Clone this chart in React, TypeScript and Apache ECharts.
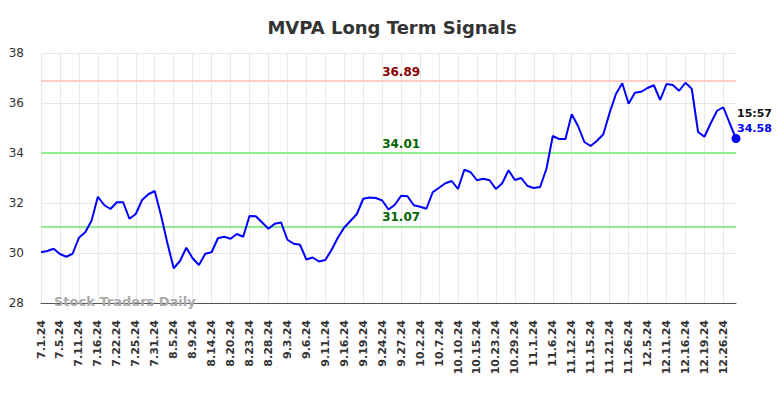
import React, { useEffect, useRef } from "react";
import * as echarts from "echarts";

const dates = [
  "7.1.24", "7.2.24", "7.3.24", "7.5.24", "7.8.24", "7.9.24", "7.11.24", "7.12.24", "7.15.24", "7.16.24",
  "7.17.24", "7.18.24", "7.22.24", "7.23.24", "7.24.24", "7.25.24", "7.26.24", "7.29.24", "7.31.24", "8.1.24",
  "8.2.24", "8.5.24", "8.6.24", "8.7.24", "8.9.24", "8.12.24", "8.13.24", "8.14.24", "8.15.24", "8.16.24",
  "8.20.24", "8.21.24", "8.22.24", "8.23.24", "8.26.24", "8.27.24", "8.28.24", "8.29.24", "8.30.24", "9.3.24",
  "9.4.24", "9.5.24", "9.6.24", "9.9.24", "9.10.24", "9.11.24", "9.12.24", "9.13.24", "9.16.24", "9.17.24",
  "9.18.24", "9.19.24", "9.20.24", "9.23.24", "9.24.24", "9.25.24", "9.26.24", "9.27.24", "9.30.24", "10.1.24",
  "10.2.24", "10.3.24", "10.4.24", "10.7.24", "10.8.24", "10.9.24", "10.10.24", "10.11.24", "10.14.24", "10.15.24",
  "10.16.24", "10.18.24", "10.23.24", "10.24.24", "10.28.24", "10.29.24", "10.30.24", "10.31.24", "11.1.24", "11.4.24",
  "11.5.24", "11.6.24", "11.7.24", "11.11.24", "11.12.24", "11.13.24", "11.14.24", "11.15.24", "11.18.24", "11.19.24",
  "11.21.24", "11.22.24", "11.25.24", "11.26.24", "11.27.24", "12.2.24", "12.5.24", "12.6.24", "12.9.24", "12.11.24",
  "12.12.24", "12.13.24", "12.16.24", "12.17.24", "12.18.24", "12.19.24", "12.20.24", "12.23.24", "12.26.24", "12.27.24",
  "12.30.24",
];

const prices = [
  30.03, 30.08, 30.17, 29.96, 29.85, 29.97, 30.61, 30.83, 31.29, 32.25,
  31.92, 31.76, 32.03, 32.03, 31.37, 31.56, 32.12, 32.35, 32.48, 31.5,
  30.4, 29.39, 29.68, 30.21, 29.79, 29.52, 29.97, 30.03, 30.59, 30.65,
  30.57, 30.76, 30.65, 31.48, 31.47, 31.22, 30.97, 31.17, 31.22, 30.53,
  30.37, 30.33, 29.74, 29.82, 29.66, 29.72, 30.13, 30.62, 31.02, 31.29,
  31.56, 32.17, 32.22, 32.2, 32.1, 31.74, 31.93, 32.29, 32.27, 31.91,
  31.85, 31.77, 32.43, 32.61, 32.79, 32.88, 32.56, 33.33, 33.23, 32.91,
  32.97, 32.91, 32.56, 32.79, 33.31, 32.92, 33.0, 32.68, 32.6, 32.64,
  33.37, 34.68, 34.56, 34.56, 35.55, 35.08, 34.44, 34.28, 34.49, 34.75,
  35.61, 36.36, 36.79, 35.97, 36.41, 36.45, 36.6, 36.71, 36.12, 36.76,
  36.72, 36.49, 36.81, 36.57, 34.84, 34.65, 35.19, 35.69, 35.83, 35.19,
  34.58,
];

const resistanceLevels = [36.89];
const supportLevels = [34.01, 31.07];
const lastTime = "15:57";
const yTicks = [28, 30, 32, 34, 36, 38];

const FONT = "DejaVu Sans";

export default function App() {
  const ref = useRef<HTMLDivElement>(null);

  useEffect(() => {
    if (!ref.current) return;
    const chart = echarts.init(ref.current, null, { renderer: "svg" });
    const lastIdx = prices.length - 1;
    const labelIdx = 57;

    const levelLabel = (v: number, color: string) => ({
      coord: [dates[labelIdx], v],
      value: v.toFixed(2),
      symbol: "circle",
      symbolSize: 0,
      label: {
        show: true,
        position: "inside",
        offset: [0, -9],
        formatter: v.toFixed(2),
        color,
        fontFamily: FONT,
        fontWeight: "bold",
        fontSize: 12,
      },
    });

    chart.setOption({
      animation: false,
      backgroundColor: "#ffffff",
      title: {
        text: "MVPA Long Term Signals",
        left: "center",
        top: 13,
        textStyle: { fontFamily: FONT, fontWeight: "bold", fontSize: 18, color: "#333333" },
      },
      grid: { left: 41, right: 48, top: 53, bottom: 95, containLabel: false },
      xAxis: {
        type: "category",
        data: dates,
        boundaryGap: false,
        axisLine: { show: true, lineStyle: { color: "#555555", width: 1 } },
        axisTick: { show: false },
        axisLabel: {
          interval: 2,
          rotate: 90,
          margin: 17,
          fontFamily: FONT,
          fontWeight: "bold",
          fontSize: 11,
          color: "#333333",
        },
        splitLine: { show: true, interval: 2, lineStyle: { color: "#e8e8e8", width: 1 } },
      },
      yAxis: {
        type: "value",
        min: yTicks[0],
        max: yTicks[yTicks.length - 1],
        interval: 2,
        axisLine: { show: false },
        axisTick: { show: false },
        axisLabel: { margin: 17, fontFamily: FONT, fontSize: 12, color: "#333333" },
        splitLine: { show: true, lineStyle: { color: "#e8e8e8", width: 1 } },
      },
      graphic: [
        {
          type: "text",
          left: 54,
          top: 295,
          z: 100,
          style: {
            text: "Stock Traders Daily",
            fill: "#aaaaaa",
            font: `bold 13px "${FONT}"`,
          },
        },
      ],
      series: [
        {
          type: "line",
          data: prices,
          showSymbol: false,
          lineStyle: { color: "#0000ff", width: 2 },
          itemStyle: { color: "#0000ff" },
          z: 5,
          markLine: {
            silent: true,
            symbol: "none",
            label: { show: false },
            data: [
              ...resistanceLevels.map((v) => ({ yAxis: v, lineStyle: { color: "#ffcccc", width: 2, type: "solid" } })),
              ...supportLevels.map((v) => ({ yAxis: v, lineStyle: { color: "#90ee90", width: 2, type: "solid" } })),
            ],
          },
          markPoint: {
            silent: true,
            data: [
              ...resistanceLevels.map((v) => levelLabel(v, "#8b0000")),
              ...supportLevels.map((v) => levelLabel(v, "#006400")),
              {
                coord: [dates[lastIdx], prices[lastIdx]],
                symbol: "circle",
                symbolSize: 9,
                itemStyle: { color: "#0000ff" },
                label: {
                  show: true,
                  position: [5.5, -28.5],
                  formatter: `{t|${lastTime}}\n{v|${prices[lastIdx].toFixed(2)}}`,
                  rich: {
                    t: { fontFamily: FONT, fontWeight: "bold", fontSize: 11, color: "#111111", lineHeight: 15 },
                    v: { fontFamily: FONT, fontWeight: "bold", fontSize: 11, color: "#0000ff", lineHeight: 15 },
                  },
                },
              },
            ],
          },
        },
      ],
    });

    return () => chart.dispose();
  }, []);

  return (
    <div
      ref={ref}
      style={{ position: "fixed", left: 0, top: 0, width: 784, height: 398, background: "#fff" }}
    />
  );
}
